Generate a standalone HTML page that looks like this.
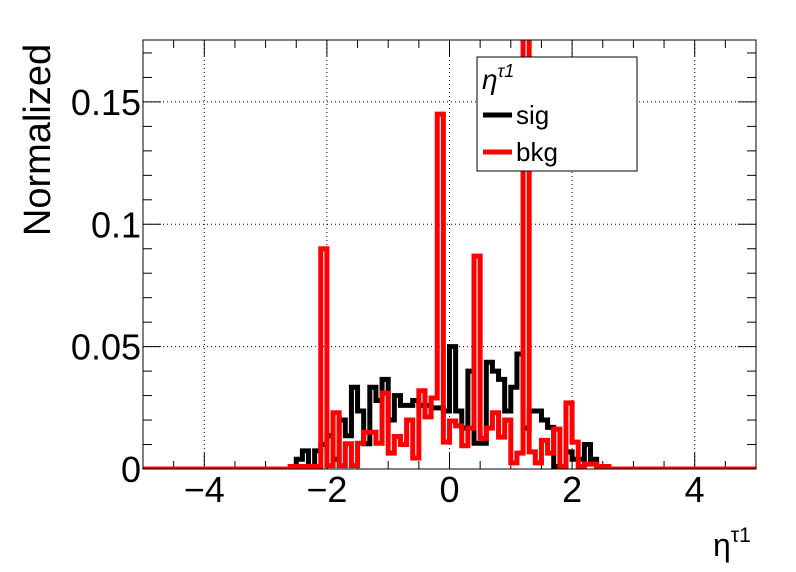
<!DOCTYPE html>
<html><head><meta charset="utf-8"><style>
body{margin:0;background:#fff}
svg{display:block;font-family:"Liberation Sans",sans-serif}
</style></head><body>
<svg id="c" width="796" height="572">
<defs><clipPath id="pc"><rect x="143" y="40" width="613" height="429"/></clipPath></defs>
<rect width="796" height="572" fill="#fff"/>
<g id="grid"></g>
<g id="ticks"></g>
<g id="series" clip-path="url(#pc)"></g>
<rect x="143" y="40" width="613" height="429" fill="none" stroke="#000" stroke-width="1"/>
<text x="50" y="140" font-size="38" text-anchor="middle" transform="rotate(-90 50 140)">Normalized</text>
<text x="713" y="556" font-size="32">η<tspan font-size="21" dy="-14">τ1</tspan></text>
<g>
<rect x="477" y="57" width="160" height="114" fill="#fff" stroke="#000"/>
<text x="482" y="89" font-size="28" font-style="italic">η<tspan font-size="18" dy="-12">τ1</tspan></text>
<line x1="483" y1="115" x2="512" y2="115" stroke="#000" stroke-width="5"/>
<text x="516" y="124" font-size="26">sig</text>
<line x1="483" y1="152" x2="512" y2="152" stroke="#f00" stroke-width="5"/>
<text x="516" y="161" font-size="26">bkg</text>
</g>
</svg>
<script>
const binStart = -2.6;
const binWidth = 0.1;
const sigValues = [0,0.004,0.0074,0.001,0.0074,0.01,0.0136,0.004,0.02,0.0136,0.0334,0.0237,0.0103,0.0334,0.028,0.0366,0.02,0.03,0.026,0.026,0.028,0.026,0.026,0.025,0.025,0.0237,
0.05,0.0237,0.0167,0.040,0.0105,0.0105,0.0436,0.040,0.0366,0.0237,0.0334,0.047,0.0167,0.0237,0.0237,0.02,0.017,0.001,0.001,0.007,0.004,0.004,0.01,0.004,0,0];
const bkgValues = [0.001,0.001,0.001,0.001,0.001,0.09,0.0014,0.023,0.0014,0.0103,0.0014,0.0105,0.015,0.015,0.0105,0.031,0.0065,0.0133,0.01,0.02,0.0045,0.032,0.0213,0.029,0.145,0.011,
0.0196,0.0176,0.0095,0.0167,0.087,0.0125,0.0167,0.023,0.013,0.020,0.0025,0.0065,0.19,0.007,0.0025,0.0117,0.0065,0.0163,0.001,0.027,0.011,0.001,0.002,0.002,0.001,0.001];
const xTickLabels = [-4,-2,0,2,4];
const yTickLabels = [0,0.05,0.1,0.15];

const NS="http://www.w3.org/2000/svg";
const X0=143,X1=756,Y0=469,Y1=40,XMIN=-5,XMAX=5,YMAX=0.1753;
const sx=v=>X0+(v-XMIN)/(XMAX-XMIN)*(X1-X0);
const sy=v=>Y0-v/YMAX*(Y0-Y1);
function mk(tag,attrs,parent){const e=document.createElementNS(NS,tag);for(const k in attrs)e.setAttribute(k,attrs[k]);parent.appendChild(e);return e;}
const grid=document.getElementById('grid'),ticks=document.getElementById('ticks'),series=document.getElementById('series');
xTickLabels.forEach(v=>{
  const l=mk('line',{x1:sx(v),x2:sx(v),y1:Y1,y2:Y0,stroke:'#000','stroke-dasharray':'1,3','stroke-width':1},grid);
  
  
  const t=mk('text',{x:sx(v),y:502,'font-size':36,'text-anchor':'middle'},ticks);
  t.textContent=v<0?'\u2212'+Math.abs(v):String(v);
  
  
});
yTickLabels.forEach(v=>{
  if(v>0){const l=mk('line',{x1:X0,x2:X1,y1:sy(v),y2:sy(v),stroke:'#000','stroke-dasharray':'1,3','stroke-width':1},grid);
  
  }
  const t=mk('text',{x:141,y:sy(v)+13,'font-size':36,'text-anchor':'end'},ticks);
  t.textContent=String(v);
  
  
});
for(let v=-5;v<=5.001;v+=0.5){const maj=Math.abs(v/2-Math.round(v/2))<1e-6;const L=maj?16:8;
  mk('line',{x1:sx(v),x2:sx(v),y1:Y0,y2:Y0-L,stroke:'#000'},ticks);
  mk('line',{x1:sx(v),x2:sx(v),y1:Y1,y2:Y1+L,stroke:'#000'},ticks);}
for(let i=0;i<=17;i++){const v=i*0.01;const maj=i%5===0;const L=maj?18:9;
  mk('line',{x1:X0,x2:X0+L,y1:sy(v),y2:sy(v),stroke:'#000'},ticks);
  mk('line',{x1:X1,x2:X1-L,y1:sy(v),y2:sy(v),stroke:'#000'},ticks);}
function hist(vals,color,name){
  let d='M'+sx(XMIN)+','+sy(0)+' L'+sx(binStart)+','+sy(0);
  vals.forEach((v,i)=>{const a=binStart+i*binWidth,b=a+binWidth;d+=' L'+sx(a)+','+sy(v)+' L'+sx(b)+','+sy(v);});
  const end=binStart+vals.length*binWidth;
  d+=' L'+sx(end)+','+sy(0)+' L'+sx(XMAX)+','+sy(0);
  const p=mk('path',{d:d,fill:'none',stroke:color,'stroke-width':5,'stroke-linejoin':'miter'},series);
  
  
}
hist(sigValues,'#000','sig-histogram');
hist(bkgValues,'#f00','bkg-histogram');
</script>
</body></html>
